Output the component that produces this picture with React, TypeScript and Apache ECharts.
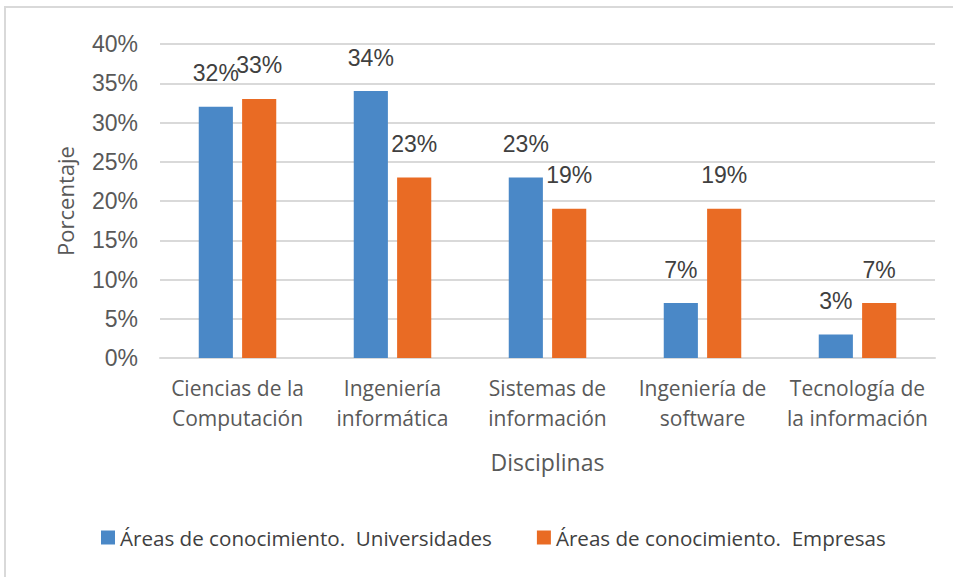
import React, { useEffect, useRef } from "react";
import * as echarts from "echarts";

const categories = [
  "Ciencias de la\nComputación",
  "Ingeniería\ninformática",
  "Sistemas de\ninformación",
  "Ingeniería de\nsoftware",
  "Tecnología de\nla información",
];
const universidades = [32, 34, 23, 7, 3];
const empresas = [33, 23, 19, 19, 7];
const seriesNames = [
  "Áreas de conocimiento.  Universidades",
  "Áreas de conocimiento.  Empresas",
];

export default function App() {
  const ref = useRef<HTMLDivElement>(null);
  useEffect(() => {
    if (!ref.current) return;
    const chart = echarts.init(ref.current, null, { renderer: "svg" });
    const labelStyle = {
      show: true,
      position: "top" as const,
      distance: 22,
      formatter: "{c}%",
      fontFamily: "Liberation Sans, Arial, sans-serif",
      fontSize: 23,
      color: "#404040",
    };
    chart.setOption({
      animation: false,
      backgroundColor: "#ffffff",
      graphic: [
        {
          type: "rect",
          shape: { x: 5, y: 7, width: 1000, height: 700 },
          style: { fill: "none", stroke: "#d9d9d9", lineWidth: 2 },
          silent: true,
        },
      ],
      grid: { left: 160, right: 18, top: 44, bottom: 219, containLabel: false },
      legend: {
        bottom: 24,
        left: 96,
        itemWidth: 14,
        itemHeight: 14,
        itemGap: 45,
        icon: "rect",
        textStyle: {
          fontFamily: "Open Sans, Noto Sans, sans-serif",
          fontSize: 20.6,
          color: "#404040",
        },
        data: seriesNames,
      },
      xAxis: {
        type: "category",
        data: categories,
        name: "Disciplinas",
        nameLocation: "middle",
        nameGap: 92,
        nameTextStyle: {
          fontFamily: "Open Sans, Noto Sans, sans-serif",
          fontSize: 23,
          color: "#595959",
        },
        axisLine: { lineStyle: { color: "#d9d9d9", width: 2 } },
        axisTick: { show: false },
        axisLabel: {
          fontFamily: "Open Sans, Noto Sans, sans-serif",
          fontSize: 21,
          color: "#595959",
          lineHeight: 30,
          margin: 15,
          interval: 0,
        },
      },
      yAxis: {
        type: "value",
        min: 0,
        max: 40,
        interval: 5,
        name: "Porcentaje",
        nameLocation: "middle",
        nameGap: 84,
        nameTextStyle: {
          fontFamily: "Open Sans, Noto Sans, sans-serif",
          fontSize: 22,
          color: "#595959",
        },
        axisLine: { show: false },
        axisTick: { show: false },
        axisLabel: {
          formatter: "{value}%",
          fontFamily: "Liberation Sans, Arial, sans-serif",
          fontSize: 23,
          color: "#595959",
          margin: 22,
        },
        splitLine: { lineStyle: { color: "#d9d9d9", width: 2 } },
      },
      series: [
        {
          name: seriesNames[0],
          type: "bar",
          data: universidades,
          itemStyle: { color: "#4a88c7" },
          barGap: "27%",
          barCategoryGap: "50%",
          label: labelStyle,
        },
        {
          name: seriesNames[1],
          type: "bar",
          data: empresas,
          itemStyle: { color: "#e96b24" },
          barGap: "27%",
          barCategoryGap: "50%",
          label: labelStyle,
        },
      ],
    });
    return () => chart.dispose();
  }, []);
  return (
    <div
      ref={ref}
      style={{ position: "fixed", left: 0, top: 0, width: 953, height: 577 }}
    />
  );
}
